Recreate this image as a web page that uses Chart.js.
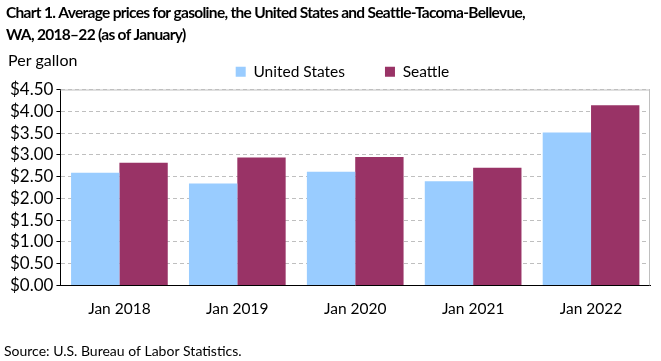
<!DOCTYPE html>
<html>
<head>
<meta charset="utf-8">
<script src="https://cdn.jsdelivr.net/npm/chart.js@4"></script>
<style>
  html, body { margin: 0; padding: 0; background: #fff; }
  #wrap { width: 661px; height: 361px; position: relative; }
</style>
</head>
<body>
<div id="wrap"><canvas id="myChart" width="661" height="361"></canvas></div>
<script>
var categories = ['Jan 2018', 'Jan 2019', 'Jan 2020', 'Jan 2021', 'Jan 2022'];
var unitedStates = [2.59, 2.34, 2.61, 2.39, 3.51];
var seattle = [2.82, 2.94, 2.95, 2.70, 4.14];
var titleLines = ['Chart 1. Average prices for gasoline, the United States and Seattle-Tacoma-Bellevue,', 'WA, 2018\u201322 (as of January)'];
var sourceText = 'Source: U.S. Bureau of Labor Statistics.';

var FONT = 'Lato, "Open Sans", sans-serif';

// extra texts and the gray frame on top/right of the plot
var decor = {
    id: 'decor',
    afterLayout: function (chart) {
        // legend sits a little right of centre in the original
        if (chart.legend) {
            chart.legend.left += 14;
            chart.legend.right += 14;
        }
    },
    afterDraw: function (chart) {
        var c = chart.ctx, a = chart.chartArea;
        c.save();
        c.strokeStyle = '#bfbfbf';
        c.lineWidth = 1;
        c.beginPath();
        c.moveTo(a.left, a.top + 0.5);
        c.lineTo(a.right - 0.5, a.top + 0.5);
        c.lineTo(a.right - 0.5, a.bottom);
        c.stroke();

        c.fillStyle = '#000';
        c.textBaseline = 'middle';
        c.font = 'bold 15.5px ' + FONT;
        c.letterSpacing = '-0.7px';
        c.fillText(titleLines[0], 6, 13);
        c.fillText(titleLines[1], 6, 35);
        c.letterSpacing = '0px';
        c.font = '16px ' + FONT;
        c.fillText('Per gallon', 8, 61);
        c.font = '14px ' + FONT;
        c.fillText(sourceText, 4, 351);
        c.restore();
    }
};

var ctx = document.getElementById('myChart').getContext('2d');
var chart = new Chart(ctx, {
    type: 'bar',
    data: {
        labels: categories,
        datasets: [{
            label: 'United States',
            backgroundColor: '#99CCFF',
            data: unitedStates
        }, {
            label: 'Seattle',
            backgroundColor: '#993366',
            data: seattle
        }]
    },
    options: {
        responsive: false,
        animation: false,
        layout: { padding: { top: 24, left: 7, right: 11, bottom: 37 } },
        datasets: {
            bar: { categoryPercentage: 0.82, barPercentage: 1.0 }
        },
        plugins: {
            legend: {
                position: 'top',
                labels: {
                    boxWidth: 10,
                    boxHeight: 10,
                    color: '#000',
                    padding: 40,
                    font: { family: FONT, size: 15.5 }
                }
            },
            tooltip: { enabled: false }
        },
        scales: {
            x: {
                grid: { display: false },
                border: { color: '#000', width: 1 },
                ticks: { color: '#000', font: { family: FONT, size: 15.5 }, padding: 6 }
            },
            y: {
                min: 0,
                max: 4.5,
                ticks: {
                    stepSize: 0.5,
                    autoSkip: false,
                    color: '#000',
                    font: { family: FONT, size: 17 },
                    padding: 3,
                    callback: function (v) { return '$' + v.toFixed(2); }
                },
                grid: { color: '#bfbfbf', tickColor: '#000', tickLength: 4 },
                border: { color: '#000', width: 1, dash: [4, 3] }
            }
        }
    },
    plugins: [decor]
});
</script>
</body>
</html>
